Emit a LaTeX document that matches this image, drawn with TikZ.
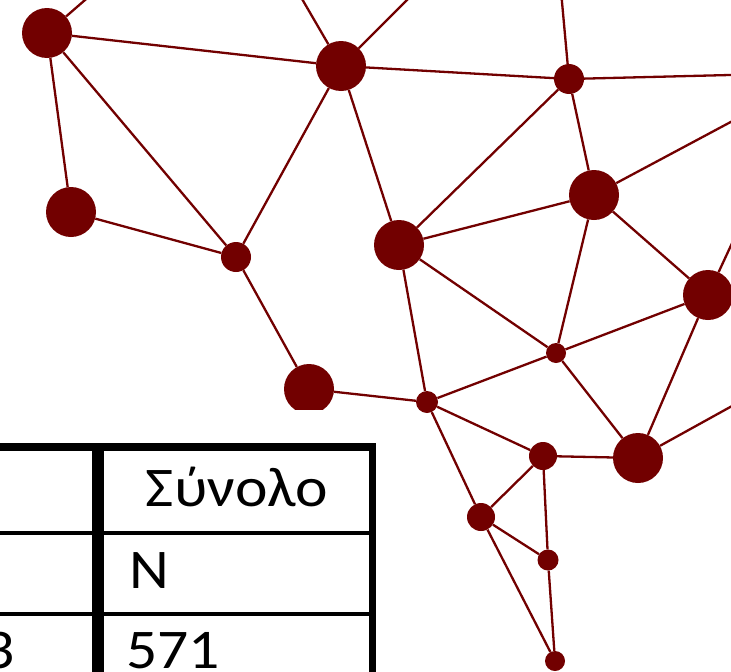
\documentclass[tikz,border=0pt]{standalone}
\usepackage{fontspec}
\setmainfont{Carlito}
\definecolor{netred}{HTML}{720000}
\begin{document}
\begin{tikzpicture}[x=1pt,y=-1pt,
  dot/.style={circle,fill=netred,inner sep=0pt,minimum size=#1},
  edge/.style={draw=netred,line width=2.3pt},
  tline/.style={draw=black,line width=#1},
  ttext/.style={inner sep=0pt,xscale=1.1,font=\fontsize{56}{64}\selectfont}]
\useasboundingbox (0,0) rectangle (731,672);
\clip (0,0) rectangle (731,672);
% nodes
\node[dot=50pt] (A) at (47,33) {};
\node[dot=50pt] (B) at (341,66) {};
\node[dot=50pt] (C) at (71,212) {};
\node[dot=30pt] (D) at (236,257) {};
\node[dot=50pt] (E) at (309,389) {};
\node[dot=30pt] (F) at (569,79) {};
\node[dot=50pt] (G) at (594,195) {};
\node[dot=50pt] (H) at (399,245) {};
\node[dot=50pt] (I) at (708,295) {};
\node[dot=20pt] (J) at (556,353) {};
\node[dot=22pt] (K) at (427,402) {};
\node[dot=28pt] (L) at (543,456) {};
\node[dot=50pt] (M) at (638,458) {};
\node[dot=28pt] (N) at (481,517) {};
\node[dot=21pt] (O) at (548,560) {};
\node[dot=20pt] (P) at (555,661) {};
% off-picture ends
\coordinate (a1) at (115,-26);
\coordinate (b1) at (291,-20);
\coordinate (b2) at (427,-20);
\coordinate (f1) at (560,-20);
\coordinate (f2) at (770,74);
\coordinate (g1) at (770,101);
\coordinate (i1) at (740,226);
\coordinate (m1) at (770,385);
% connectors
\draw[edge] (A) -- (a1);
\draw[edge] (A) -- (B);
\draw[edge] (A) -- (C);
\draw[edge] (A) -- (D);
\draw[edge] (C) -- (D);
\draw[edge] (D) -- (B);
\draw[edge] (D) -- (E);
\draw[edge] (B) -- (b1);
\draw[edge] (B) -- (b2);
\draw[edge] (B) -- (F);
\draw[edge] (B) -- (H);
\draw[edge] (F) -- (f1);
\draw[edge] (F) -- (f2);
\draw[edge] (F) -- (H);
\draw[edge] (F) -- (G);
\draw[edge] (G) -- (g1);
\draw[edge] (G) -- (H);
\draw[edge] (G) -- (I);
\draw[edge] (G) -- (J);
\draw[edge] (I) -- (i1);
\draw[edge] (H) -- (J);
\draw[edge] (H) -- (K);
\draw[edge] (J) -- (I);
\draw[edge] (J) -- (M);
\draw[edge] (K) -- (J);
\draw[edge] (E) -- (K);
\draw[edge] (K) -- (L);
\draw[edge] (K) -- (N);
\draw[edge] (L) -- (M);
\draw[edge] (L) -- (N);
\draw[edge] (L) -- (O);
\draw[edge] (N) -- (O);
\draw[edge] (N) -- (P);
\draw[edge] (O) -- (P);
\draw[edge] (M) -- (m1);
\draw[edge] (I) -- (M);
% table area
\fill[white] (0,410) rectangle (380,672);
\coordinate (t1) at (0,447);
\coordinate (t2) at (376,447);
\draw[tline=8pt] (t1) -- (t2);
\coordinate (v1) at (98,443);
\coordinate (v2) at (98,672);
\draw[tline=12pt] (v1) -- (v2);
\coordinate (r1) at (372.5,443);
\coordinate (r2) at (372.5,672);
\draw[tline=7pt] (r1) -- (r2);
\coordinate (h1) at (0,533);
\coordinate (h2) at (369,533);
\draw[tline=4pt] (h1) -- (h2);
\coordinate (k1) at (0,614);
\coordinate (k2) at (369,614);
\draw[tline=4pt] (k1) -- (k2);
\node[ttext,anchor=base] (s) at (236.7,506) {Σύνολο};
\node[ttext,anchor=base west] (n) at (129,588) {N};
\node[ttext,anchor=base west] (v) at (126,668) {571};
\node[ttext,anchor=base east] (x) at (15,668) {3};
\end{tikzpicture}
\end{document}
